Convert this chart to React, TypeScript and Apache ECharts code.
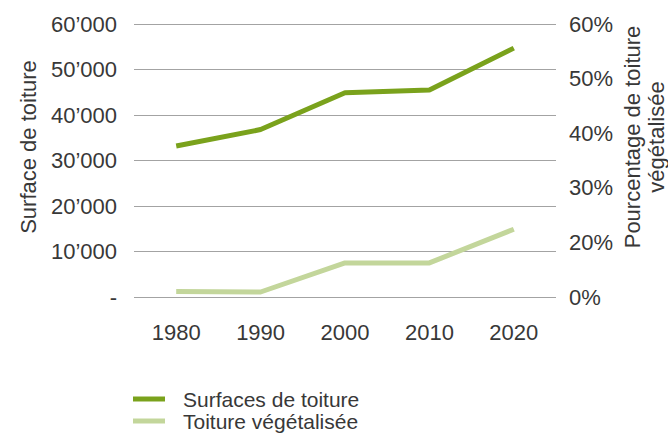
import React, { useEffect, useRef } from "react";
import * as echarts from "echarts";

const years = ["1980", "1990", "2000", "2010", "2020"];
const surfaces = [33200, 36800, 44900, 45500, 54700];
const vegetalise = [1.2, 1.1, 7.5, 7.5, 14.9];
const rightTickLabels = ["0%", "20%", "30%", "40%", "50%", "60%"];
const seriesNames = ["Surfaces de toiture", "Toiture végétalisée"];
const leftAxisName = "Surface de toiture";
const rightAxisName = "Pourcentage de toiture\nvégétalisée";

const FONT = "'Liberation Sans', Arial, sans-serif";
const TEXT = "#383838";

function fmtThousands(v: number): string {
  if (v === 0) return "-";
  return String(v).replace(/\B(?=(\d{3})+(?!\d))/g, "\u2019");
}

export default function App() {
  const ref = useRef<HTMLDivElement>(null);
  useEffect(() => {
    if (!ref.current) return;
    const chart = echarts.init(ref.current, undefined, { renderer: "svg" });
    chart.setOption({
      animation: false,
      textStyle: { fontFamily: FONT, color: TEXT },
      grid: { left: 134, right: 112, top: 24, bottom: 137, containLabel: false },
      legend: {
        orient: "vertical",
        left: 133,
        top: 388,
        icon: "rect",
        itemWidth: 32,
        itemHeight: 5,
        itemGap: 0,
        padding: 0,
        textStyle: {
          fontFamily: FONT,
          fontSize: 21,
          color: TEXT,
          lineHeight: 22,
          padding: [0, 0, 0, 13],
        },
        data: seriesNames,
      },
      xAxis: {
        type: "category",
        data: years,
        boundaryGap: true,
        axisLine: { show: false },
        axisTick: { show: false },
        axisLabel: { fontSize: 22, color: TEXT, fontFamily: FONT, margin: 24 },
      },
      yAxis: [
        {
          type: "value",
          min: 0,
          max: 60000,
          interval: 10000,
          axisLine: { show: false },
          axisTick: { show: false },
          splitLine: { lineStyle: { color: "#a3a3a3", width: 1 } },
          axisLabel: {
            fontSize: 22,
            color: TEXT,
            fontFamily: FONT,
            margin: 17,
            padding: [0, 0, 4, 0],
            formatter: (v: number) => fmtThousands(v),
          },
        },
        {
          type: "value",
          min: 0,
          max: 60,
          interval: 12,
          position: "right",
          axisLine: { show: false },
          axisTick: { show: false },
          splitLine: { show: false },
          axisLabel: {
            fontSize: 22,
            color: TEXT,
            fontFamily: FONT,
            margin: 13,
            padding: [0, 0, 6, 0],
            formatter: (v: number) => rightTickLabels[Math.round(v / 12)] ?? "",
          },
        },
      ],
      graphic: [
        {
          type: "text",
          x: 28,
          y: 147,
          rotation: Math.PI / 2,
          style: {
            text: leftAxisName,
            fontSize: 22,
            fontFamily: FONT,
            fill: TEXT,
            align: "center",
            verticalAlign: "middle",
          },
        },
        {
          type: "text",
          x: 644,
          y: 137,
          rotation: Math.PI / 2,
          style: {
            text: rightAxisName,
            fontSize: 22,
            fontFamily: FONT,
            fill: TEXT,
            align: "center",
            verticalAlign: "middle",
            lineHeight: 24,
          },
        },
      ],
      series: [
        {
          name: seriesNames[0],
          type: "line",
          data: surfaces,
          yAxisIndex: 0,
          symbol: "none",
          lineStyle: { color: "#7aa21c", width: 5 },
          itemStyle: { color: "#7aa21c" },
        },
        {
          name: seriesNames[1],
          type: "line",
          data: vegetalise,
          yAxisIndex: 1,
          symbol: "none",
          lineStyle: { color: "#c3d69b", width: 5 },
          itemStyle: { color: "#c3d69b" },
        },
      ],
    });
    return () => chart.dispose();
  }, []);
  return (
    <div
      ref={ref}
      style={{ position: "absolute", left: 0, top: 0, width: 668, height: 434 }}
    />
  );
}
